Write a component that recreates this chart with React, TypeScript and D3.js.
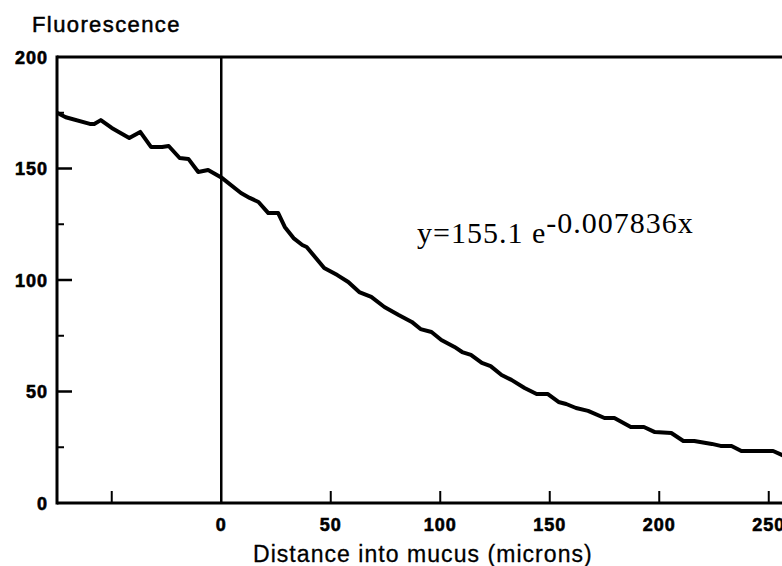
import React, { useEffect, useRef } from "react";
import * as d3 from "d3";

// values
const distance = [
  -75, -71, -60, -58, -55, -50, -42, -37, -32, -27, -24, -19, -15, -10.5, -6, 0,
  9, 13, 17, 21.5, 26, 29, 33, 37, 39, 47, 53, 58, 63, 68.5, 74.5, 81, 87, 91,
  96, 100.5, 106.5, 110, 114, 119, 123, 128, 132.5, 138.5, 144, 149, 154, 157.5,
  162, 167.5, 175, 179.5, 187, 193, 198, 205.5, 211, 216, 224, 228, 233, 237.5,
  252, 257, 260,
];
const fluorescence = [
  175, 173, 170, 170, 171.7, 168.2, 163.7, 166.4, 159.6, 159.6, 160.1, 154.7,
  154.3, 148.4, 149.3, 146, 139, 136.8, 135, 130, 130, 123.8, 118.8, 115.7,
  114.8, 105.4, 102.2, 99.1, 94.6, 92.4, 87.9, 84.3, 81.2, 78, 76.7, 73.1, 70,
  67.7, 66.4, 62.8, 61.4, 57.4, 55.2, 51.6, 48.9, 48.9, 45.3, 44.4, 42.6, 41.3,
  38.1, 38.1, 34.1, 34.1, 31.8, 31.4, 27.8, 27.8, 26.5, 25.6, 25.6, 23.3, 23.3,
  21.1, 20,
];
const xTicks = [-50, 0, 50, 100, 150, 200, 250];
const xTickLabels = ["", "0", "50", "100", "150", "200", "250"];
const yMajor = [0, 50, 100, 150, 200];
const yMinor = [25, 75, 125, 175];

const App = () => {
  const svgRef = useRef(null);

  useEffect(() => {
    const width = 782;
    const svg = d3.select(svgRef.current);
    svg.selectAll("*").remove();

    const x = d3.scaleLinear().domain([-75, 260]).range([57, 57 + 335 * 2.19]);
    const y = d3.scaleLinear().domain([0, 200]).range([503, 57]);

    const sans = "'Liberation Sans', Arial, Helvetica, sans-serif";

    // frame: left, bottom, top
    svg.append("line")
      .attr("x1", x(-75)).attr("x2", x(-75))
      .attr("y1", y(200) - 1.5).attr("y2", y(0) + 1.5)
      .attr("stroke", "#000").attr("stroke-width", 3);
    svg.append("line")
      .attr("x1", x(-75)).attr("x2", width + 10)
      .attr("y1", y(0)).attr("y2", y(0))
      .attr("stroke", "#000").attr("stroke-width", 3);
    svg.append("line")
      .attr("x1", x(-75)).attr("x2", width + 10)
      .attr("y1", y(200)).attr("y2", y(200))
      .attr("stroke", "#000").attr("stroke-width", 3);

    // vertical line at x = 0
    svg.append("line")
      .attr("x1", x(0)).attr("x2", x(0))
      .attr("y1", y(200)).attr("y2", y(0))
      .attr("stroke", "#000").attr("stroke-width", 2.5);

    // x ticks (pointing up)
    svg.selectAll(".xtick")
      .data(xTicks.filter((d) => d !== 0))
      .enter()
      .append("line")
      .attr("x1", (d) => x(d)).attr("x2", (d) => x(d))
      .attr("y1", y(0)).attr("y2", y(0) - 12)
      .attr("stroke", "#000").attr("stroke-width", 2);

    svg.selectAll(".xlabel")
      .data(xTicks)
      .enter()
      .append("text")
      .attr("x", (d) => x(d))
      .attr("y", 531)
      .attr("text-anchor", "middle")
      .attr("font-family", sans)
      .attr("font-weight", "bold")
      .attr("font-size", 18)
      .attr("letter-spacing", 1)
      .attr("stroke", "#000")
      .attr("stroke-width", 0.6)
      .text((d, i) => xTickLabels[i]);

    // y ticks (pointing right)
    svg.selectAll(".ymajor")
      .data(yMajor.filter((d) => d > 0 && d < 200))
      .enter()
      .append("line")
      .attr("x1", x(-75)).attr("x2", x(-75) + 15)
      .attr("y1", (d) => y(d)).attr("y2", (d) => y(d))
      .attr("stroke", "#000").attr("stroke-width", 2.5);
    svg.selectAll(".yminor")
      .data(yMinor)
      .enter()
      .append("line")
      .attr("x1", x(-75)).attr("x2", x(-75) + 7)
      .attr("y1", (d) => y(d)).attr("y2", (d) => y(d))
      .attr("stroke", "#000").attr("stroke-width", 2);

    svg.selectAll(".ylabel")
      .data(yMajor)
      .enter()
      .append("text")
      .attr("x", 48)
      .attr("y", (d) => y(d) + 6.5)
      .attr("text-anchor", "end")
      .attr("font-family", sans)
      .attr("font-weight", "bold")
      .attr("font-size", 18)
      .attr("letter-spacing", 1)
      .attr("stroke", "#000")
      .attr("stroke-width", 0.6)
      .text((d) => d);

    // curve
    const pts = distance.map((d, i) => [d, fluorescence[i]]);
    const line = d3.line()
      .x((d) => x(d[0]))
      .y((d) => y(d[1]));
    svg.append("path")
      .datum(pts)
      .attr("d", line)
      .attr("fill", "none")
      .attr("stroke", "#000")
      .attr("stroke-width", 4)
      .attr("stroke-linejoin", "round");

    // axis titles
    svg.append("text")
      .attr("x", 32).attr("y", 32)
      .attr("font-family", sans)
      .attr("font-size", 22)
      .attr("letter-spacing", 1.4)
      .attr("stroke", "#000")
      .attr("stroke-width", 0.5)
      .text("Fluorescence");
    svg.append("text")
      .attr("x", 253).attr("y", 562)
      .attr("font-family", sans)
      .attr("font-size", 23)
      .attr("letter-spacing", 1.05)
      .attr("stroke", "#000")
      .attr("stroke-width", 0.3)
      .text("Distance into mucus (microns)");

    // fit equation
    const eq = svg.append("text")
      .attr("x", 417).attr("y", 243)
      .attr("font-family", "'Liberation Serif', 'Times New Roman', serif")
      .attr("font-size", 30)
      .attr("letter-spacing", 1);
    eq.append("tspan").text("y=155.1 e");
    eq.append("tspan").attr("dy", -10).text("-0.007836x");
  }, []);

  return (
    <div>
      <svg
        ref={svgRef}
        width={782}
        height={566}
        style={{ position: "absolute", left: 0, top: 0, background: "#fff" }}
      ></svg>
    </div>
  );
};

export default App;
